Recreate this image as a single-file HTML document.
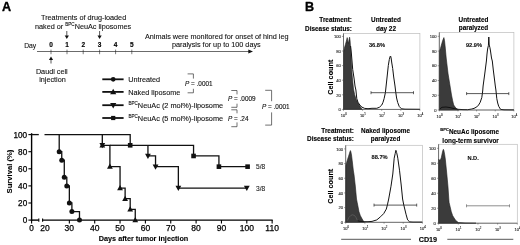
<!DOCTYPE html>
<html lang="en">
<head>
<meta charset="utf-8">
<title>Figure</title>
<style>
html,body{margin:0;padding:0;background:#fff;}
body{width:520px;height:245px;overflow:hidden;}
svg{display:block;filter:blur(0.35px);}
svg text{font-family:"Liberation Sans",sans-serif;stroke-linejoin:round;}
</style>
</head>
<body>
<svg width="520" height="245" viewBox="0 0 520 245">
<rect x="0" y="0" width="520" height="245" fill="#fff"/>
<text x="1.9" y="11.4" text-anchor="start" fill="#000" stroke="#000" stroke-width="0.35" style="font-size:12.6px;font-weight:bold;" >A</text>
<text x="41" y="19.6" text-anchor="start" fill="#111" stroke="#111" stroke-width="0.1" style="font-size:7.25px;" >Treatments of drug-loaded</text>
<text x="35" y="28.6" fill="#111" stroke="#111" stroke-width="0.1" style="font-size:7.25px">naked or <tspan dy="-2.6" style="font-size:4.6px">BPC</tspan><tspan dy="2.6">NeuAc liposomes</tspan></text>
<line x1="66.8" y1="31" x2="66.8" y2="35.9" stroke="#111" stroke-width="0.7" stroke-linecap="butt"/>
<polygon points="64.7,35.4 68.89999999999999,35.4 66.8,39" fill="#111"/>
<line x1="99.6" y1="31" x2="99.6" y2="35.9" stroke="#111" stroke-width="0.7" stroke-linecap="butt"/>
<polygon points="97.5,35.4 101.69999999999999,35.4 99.6,39" fill="#111"/>
<text x="24.2" y="47.6" text-anchor="start" fill="#111" stroke="#111" stroke-width="0.1" style="font-size:7.25px;" textLength="12" lengthAdjust="spacingAndGlyphs">Day</text>
<text x="51" y="47.4" text-anchor="middle" fill="#000" stroke="#000" stroke-width="0.15" style="font-size:6.5px;font-weight:bold;" >0</text>
<line x1="51" y1="49.6" x2="51" y2="54.2" stroke="#222" stroke-width="0.6" stroke-linecap="butt"/>
<text x="67" y="47.4" text-anchor="middle" fill="#000" stroke="#000" stroke-width="0.15" style="font-size:6.5px;font-weight:bold;" >1</text>
<line x1="67" y1="49.6" x2="67" y2="54.2" stroke="#222" stroke-width="0.6" stroke-linecap="butt"/>
<text x="83.2" y="47.4" text-anchor="middle" fill="#000" stroke="#000" stroke-width="0.15" style="font-size:6.5px;font-weight:bold;" >2</text>
<line x1="83.2" y1="49.6" x2="83.2" y2="54.2" stroke="#222" stroke-width="0.6" stroke-linecap="butt"/>
<text x="99.6" y="47.4" text-anchor="middle" fill="#000" stroke="#000" stroke-width="0.15" style="font-size:6.5px;font-weight:bold;" >3</text>
<line x1="99.6" y1="49.6" x2="99.6" y2="54.2" stroke="#222" stroke-width="0.6" stroke-linecap="butt"/>
<text x="115.6" y="47.4" text-anchor="middle" fill="#000" stroke="#000" stroke-width="0.15" style="font-size:6.5px;font-weight:bold;" >4</text>
<line x1="115.6" y1="49.6" x2="115.6" y2="54.2" stroke="#222" stroke-width="0.6" stroke-linecap="butt"/>
<text x="131.8" y="47.4" text-anchor="middle" fill="#000" stroke="#000" stroke-width="0.15" style="font-size:6.5px;font-weight:bold;" >5</text>
<line x1="131.8" y1="49.6" x2="131.8" y2="54.2" stroke="#222" stroke-width="0.6" stroke-linecap="butt"/>
<line x1="37" y1="51.5" x2="249.5" y2="51.5" stroke="#1a1a1a" stroke-width="0.65" stroke-linecap="butt"/>
<polygon points="248.3,49.4 253,51.5 248.3,53.6" fill="#111"/>
<line x1="51" y1="59.6" x2="51" y2="63.5" stroke="#111" stroke-width="0.7" stroke-linecap="butt"/>
<polygon points="48.9,60.1 53.1,60.1 51,56.5" fill="#111"/>
<text x="51.8" y="73.6" text-anchor="middle" fill="#111" stroke="#111" stroke-width="0.1" style="font-size:7.25px;" >Daudi cell</text>
<text x="52.5" y="82.3" text-anchor="middle" fill="#111" stroke="#111" stroke-width="0.1" style="font-size:7.25px;" >injection</text>
<text x="145" y="38.6" text-anchor="start" fill="#111" stroke="#111" stroke-width="0.1" style="font-size:7.25px;" >Animals were monitored for onset of hind leg</text>
<text x="172" y="47.3" text-anchor="start" fill="#111" stroke="#111" stroke-width="0.1" style="font-size:7.25px;" >paralysis for up to 100 days</text>
<line x1="102.3" y1="79.3" x2="123.6" y2="79.3" stroke="#111" stroke-width="1.8" stroke-linecap="butt"/>
<line x1="102.3" y1="91.9" x2="123.6" y2="91.9" stroke="#111" stroke-width="1.8" stroke-linecap="butt"/>
<line x1="102.3" y1="105.2" x2="123.6" y2="105.2" stroke="#111" stroke-width="1.8" stroke-linecap="butt"/>
<line x1="102.3" y1="118.0" x2="123.6" y2="118.0" stroke="#111" stroke-width="1.8" stroke-linecap="butt"/>
<circle cx="113.2" cy="79.3" r="2.35" fill="#111"/>
<polygon points="110.10000000000001,94.22500000000001 116.3,94.22500000000001 113.2,88.64500000000001" fill="#111"/>
<polygon points="110.10000000000001,102.875 116.3,102.875 113.2,108.455" fill="#111"/>
<rect x="111.10000000000001" y="115.9" width="4.2" height="4.2" fill="#111"/>
<text x="128.3" y="81.9" text-anchor="start" fill="#111" stroke="#111" stroke-width="0.1" style="font-size:7.25px;" >Untreated</text>
<text x="128.3" y="94.5" text-anchor="start" fill="#111" stroke="#111" stroke-width="0.1" style="font-size:7.25px;" >Naked liposome</text>
<text x="128.4" y="107.8" fill="#111" stroke="#111" stroke-width="0.1" style="font-size:7.35px"><tspan dy="-2.6" style="font-size:4.6px">BPC</tspan><tspan dy="2.6">NeuAc (2 mol%)-liposome</tspan></text>
<text x="128.4" y="120.7" fill="#111" stroke="#111" stroke-width="0.1" style="font-size:7.35px"><tspan dy="-2.6" style="font-size:4.6px">BPC</tspan><tspan dy="2.6">NeuAc (5 mol%)-liposome</tspan></text>
<text x="185" y="86.2" fill="#111" stroke="#111" stroke-width="0.12" style="font-size:6.4px"><tspan style="font-style:italic">P</tspan> = .0001</text>
<path d="M187.6,73.9 H193.4 V78.6" stroke="#333" stroke-width="0.7" fill="none" stroke-linejoin="miter"/>
<path d="M187.6,92.8 H193.4 V88.8" stroke="#333" stroke-width="0.7" fill="none" stroke-linejoin="miter"/>
<text x="228" y="101.4" fill="#111" stroke="#111" stroke-width="0.12" style="font-size:6.4px"><tspan style="font-style:italic">P</tspan> = .0009</text>
<path d="M231.3,90.5 H237 V94.4" stroke="#333" stroke-width="0.7" fill="none" stroke-linejoin="miter"/>
<path d="M231.3,107.3 H237 V103.7" stroke="#333" stroke-width="0.7" fill="none" stroke-linejoin="miter"/>
<path d="M231.3,109.8 H237 V113.3" stroke="#333" stroke-width="0.7" fill="none" stroke-linejoin="miter"/>
<text x="228" y="120.6" fill="#111" stroke="#111" stroke-width="0.12" style="font-size:6.4px"><tspan style="font-style:italic">P</tspan> = .24</text>
<path d="M231.3,126.7 H237 V122.4" stroke="#333" stroke-width="0.7" fill="none" stroke-linejoin="miter"/>
<path d="M265.2,90.3 H271.6 V101.2" stroke="#333" stroke-width="0.7" fill="none" stroke-linejoin="miter"/>
<text x="262" y="109" fill="#111" stroke="#111" stroke-width="0.12" style="font-size:6.4px"><tspan style="font-style:italic">P</tspan> = .0001</text>
<path d="M265.2,125.1 H271.6 V112.4" stroke="#333" stroke-width="0.7" fill="none" stroke-linejoin="miter"/>
<line x1="31.6" y1="133.2" x2="31.6" y2="220.79999999999998" stroke="#000" stroke-width="1.4" stroke-linecap="butt"/>
<line x1="28.400000000000002" y1="220.1" x2="31.6" y2="220.1" stroke="#000" stroke-width="1.1" stroke-linecap="butt"/>
<text x="27.200000000000003" y="223.1" text-anchor="end" fill="#000" stroke="#000" stroke-width="0.25" style="font-size:8.2px;" >0</text>
<line x1="28.400000000000002" y1="203.0" x2="31.6" y2="203.0" stroke="#000" stroke-width="1.1" stroke-linecap="butt"/>
<text x="27.200000000000003" y="206.0" text-anchor="end" fill="#000" stroke="#000" stroke-width="0.25" style="font-size:8.2px;" >20</text>
<line x1="28.400000000000002" y1="185.9" x2="31.6" y2="185.9" stroke="#000" stroke-width="1.1" stroke-linecap="butt"/>
<text x="27.200000000000003" y="188.9" text-anchor="end" fill="#000" stroke="#000" stroke-width="0.25" style="font-size:8.2px;" >40</text>
<line x1="28.400000000000002" y1="168.8" x2="31.6" y2="168.8" stroke="#000" stroke-width="1.1" stroke-linecap="butt"/>
<text x="27.200000000000003" y="171.8" text-anchor="end" fill="#000" stroke="#000" stroke-width="0.25" style="font-size:8.2px;" >60</text>
<line x1="28.400000000000002" y1="151.7" x2="31.6" y2="151.7" stroke="#000" stroke-width="1.1" stroke-linecap="butt"/>
<text x="27.200000000000003" y="154.7" text-anchor="end" fill="#000" stroke="#000" stroke-width="0.25" style="font-size:8.2px;" >80</text>
<line x1="28.400000000000002" y1="134.6" x2="31.6" y2="134.6" stroke="#000" stroke-width="1.1" stroke-linecap="butt"/>
<text x="27.200000000000003" y="137.6" text-anchor="end" fill="#000" stroke="#000" stroke-width="0.25" style="font-size:8.2px;" >100</text>
<line x1="30.900000000000002" y1="220.1" x2="38.8" y2="220.1" stroke="#000" stroke-width="1.4" stroke-linecap="butt"/>
<line x1="42.6" y1="220.1" x2="272.7" y2="220.1" stroke="#000" stroke-width="1.4" stroke-linecap="butt"/>
<line x1="38.8" y1="218.4" x2="38.8" y2="221.79999999999998" stroke="#000" stroke-width="1.1" stroke-linecap="butt"/>
<line x1="42.6" y1="218.4" x2="42.6" y2="221.79999999999998" stroke="#000" stroke-width="1.1" stroke-linecap="butt"/>
<line x1="31.6" y1="220.1" x2="31.6" y2="223.5" stroke="#000" stroke-width="1.1" stroke-linecap="butt"/>
<text x="31.6" y="231.0" text-anchor="middle" fill="#000" stroke="#000" stroke-width="0.25" style="font-size:8.2px;" >0</text>
<text x="45.0" y="231.0" text-anchor="middle" fill="#000" stroke="#000" stroke-width="0.25" style="font-size:8.5px;" >20</text>
<line x1="69.35" y1="220.1" x2="69.35" y2="223.5" stroke="#000" stroke-width="1.1" stroke-linecap="butt"/>
<text x="69.35" y="231.0" text-anchor="middle" fill="#000" stroke="#000" stroke-width="0.25" style="font-size:8.5px;" >30</text>
<line x1="94.7" y1="220.1" x2="94.7" y2="223.5" stroke="#000" stroke-width="1.1" stroke-linecap="butt"/>
<text x="94.7" y="231.0" text-anchor="middle" fill="#000" stroke="#000" stroke-width="0.25" style="font-size:8.5px;" >40</text>
<line x1="120.05" y1="220.1" x2="120.05" y2="223.5" stroke="#000" stroke-width="1.1" stroke-linecap="butt"/>
<text x="120.05" y="231.0" text-anchor="middle" fill="#000" stroke="#000" stroke-width="0.25" style="font-size:8.5px;" >50</text>
<line x1="145.4" y1="220.1" x2="145.4" y2="223.5" stroke="#000" stroke-width="1.1" stroke-linecap="butt"/>
<text x="145.4" y="231.0" text-anchor="middle" fill="#000" stroke="#000" stroke-width="0.25" style="font-size:8.5px;" >60</text>
<line x1="170.75" y1="220.1" x2="170.75" y2="223.5" stroke="#000" stroke-width="1.1" stroke-linecap="butt"/>
<text x="170.75" y="231.0" text-anchor="middle" fill="#000" stroke="#000" stroke-width="0.25" style="font-size:8.5px;" >70</text>
<line x1="196.1" y1="220.1" x2="196.1" y2="223.5" stroke="#000" stroke-width="1.1" stroke-linecap="butt"/>
<text x="196.1" y="231.0" text-anchor="middle" fill="#000" stroke="#000" stroke-width="0.25" style="font-size:8.5px;" >80</text>
<line x1="221.45" y1="220.1" x2="221.45" y2="223.5" stroke="#000" stroke-width="1.1" stroke-linecap="butt"/>
<text x="221.45" y="231.0" text-anchor="middle" fill="#000" stroke="#000" stroke-width="0.25" style="font-size:8.5px;" >90</text>
<line x1="246.8" y1="220.1" x2="246.8" y2="223.5" stroke="#000" stroke-width="1.1" stroke-linecap="butt"/>
<text x="246.8" y="231.0" text-anchor="middle" fill="#000" stroke="#000" stroke-width="0.25" style="font-size:8.5px;" >100</text>
<line x1="272.15" y1="220.1" x2="272.15" y2="223.5" stroke="#000" stroke-width="1.1" stroke-linecap="butt"/>
<text x="272.15" y="231.0" text-anchor="middle" fill="#000" stroke="#000" stroke-width="0.25" style="font-size:8.5px;" >110</text>
<text x="98.8" y="240.7" text-anchor="start" fill="#000" stroke="#000" stroke-width="0.1" style="font-size:7.25px;font-weight:bold;" >Days after tumor injection</text>
<text transform="translate(12.0,193.4) rotate(-90)" fill="#000" stroke="#000" stroke-width="0.08" style="font-size:7.65px;font-weight:bold">Survival (%)</text>
<line x1="31.6" y1="134.6" x2="38.8" y2="134.6" stroke="#111" stroke-width="1.3" stroke-linecap="butt"/>
<path d="M44.5,134.6 H130.19 V145.29 H193.56 V155.97 H218.92 V166.66 H247.60000000000002" stroke="#111" stroke-width="1.3" fill="none" stroke-linejoin="miter"/>
<path d="M59.21,134.6 H59.21 V151.7 H61.75 V160.25 H64.28 V177.35 H66.81 V185.9 H69.35 V203.0 H71.89 V211.55 H79.49 V220.1" stroke="#111" stroke-width="1.3" fill="none" stroke-linejoin="miter"/>
<path d="M102.31,134.6 V145.29 H109.91 V166.66 H120.05 V188.04 H125.12 V198.72 H130.19 V209.41 H135.26 V220.1" stroke="#111" stroke-width="1.3" fill="none" stroke-linejoin="miter"/>
<path d="M109.91,145.29 H130.19" stroke="#111" stroke-width="1.3" fill="none" stroke-linejoin="miter"/>
<path d="M147.94,145.29 H147.94 V155.97 H155.54 V166.66 H178.36 V188.04 H246.8" stroke="#111" stroke-width="1.3" fill="none" stroke-linejoin="miter"/>
<circle cx="59.21" cy="151.7" r="2.5" fill="#111"/>
<circle cx="61.75" cy="160.25" r="2.5" fill="#111"/>
<circle cx="64.28" cy="177.35" r="2.5" fill="#111"/>
<circle cx="66.81" cy="185.9" r="2.5" fill="#111"/>
<circle cx="69.35" cy="203.0" r="2.5" fill="#111"/>
<circle cx="71.89" cy="211.55" r="2.5" fill="#111"/>
<circle cx="79.49" cy="220.1" r="2.5" fill="#111"/>
<polygon points="99.41,147.465 105.21000000000001,147.465 102.31,142.245" fill="#111"/>
<polygon points="107.00999999999999,168.835 112.81,168.835 109.91,163.615" fill="#111"/>
<polygon points="117.14999999999999,190.215 122.95,190.215 120.05,184.995" fill="#111"/>
<polygon points="122.22,200.895 128.02,200.895 125.12,195.675" fill="#111"/>
<polygon points="127.28999999999999,211.585 133.09,211.585 130.19,206.365" fill="#111"/>
<polygon points="132.35999999999999,222.275 138.16,222.275 135.26,217.055" fill="#111"/>
<polygon points="99.41,143.11499999999998 105.21000000000001,143.11499999999998 102.31,148.33499999999998" fill="#111"/>
<polygon points="145.04,153.795 150.84,153.795 147.94,159.015" fill="#111"/>
<polygon points="152.64,164.48499999999999 158.44,164.48499999999999 155.54,169.70499999999998" fill="#111"/>
<polygon points="175.46,185.86499999999998 181.26000000000002,185.86499999999998 178.36,191.08499999999998" fill="#111"/>
<polygon points="243.9,185.86499999999998 249.70000000000002,185.86499999999998 246.8,191.08499999999998" fill="#111"/>
<rect x="127.89" y="142.98999999999998" width="4.6" height="4.6" fill="#111"/>
<rect x="191.26" y="153.67" width="4.6" height="4.6" fill="#111"/>
<rect x="216.61999999999998" y="164.35999999999999" width="4.6" height="4.6" fill="#111"/>
<rect x="245.3" y="164.35999999999999" width="4.6" height="4.6" fill="#111"/>
<text x="256" y="169.16" text-anchor="start" fill="#222" stroke="#222" stroke-width="0.1" style="font-size:6.6px;" >5/8</text>
<text x="256" y="190.54" text-anchor="start" fill="#222" stroke="#222" stroke-width="0.1" style="font-size:6.6px;" >3/8</text>
<text x="305.0" y="11.4" text-anchor="start" fill="#000" stroke="#000" stroke-width="0.35" style="font-size:12.6px;font-weight:bold;" >B</text>
<text x="352" y="22.3" text-anchor="end" fill="#000" stroke="#000" stroke-width="0.12" style="font-size:6.4px;font-weight:bold;" >Treatment:</text>
<text x="352" y="30.6" text-anchor="end" fill="#000" stroke="#000" stroke-width="0.12" style="font-size:6.4px;font-weight:bold;" >Disease status:</text>
<text x="386" y="22.3" text-anchor="middle" fill="#000" stroke="#000" stroke-width="0.12" style="font-size:6.4px;font-weight:bold;" >Untreated</text>
<text x="386" y="30.6" text-anchor="middle" fill="#000" stroke="#000" stroke-width="0.12" style="font-size:6.4px;font-weight:bold;" >day 22</text>
<text x="473.5" y="22.3" text-anchor="middle" fill="#000" stroke="#000" stroke-width="0.12" style="font-size:6.4px;font-weight:bold;" >Untreated</text>
<text x="473.5" y="29.8" text-anchor="middle" fill="#000" stroke="#000" stroke-width="0.12" style="font-size:6.4px;font-weight:bold;" >paralyzed</text>
<text x="354" y="132.8" text-anchor="end" fill="#000" stroke="#000" stroke-width="0.12" style="font-size:6.4px;font-weight:bold;" >Treatment:</text>
<text x="354" y="141.1" text-anchor="end" fill="#000" stroke="#000" stroke-width="0.12" style="font-size:6.4px;font-weight:bold;" >Disease status:</text>
<text x="385.6" y="132.8" text-anchor="middle" fill="#000" stroke="#000" stroke-width="0.12" style="font-size:6.4px;font-weight:bold;" >Naked liposome</text>
<text x="385.6" y="141.1" text-anchor="middle" fill="#000" stroke="#000" stroke-width="0.12" style="font-size:6.4px;font-weight:bold;" >paralyzed</text>
<text x="440.3" y="133.6" fill="#000" stroke="#000" stroke-width="0.12" style="font-size:6.4px;font-weight:bold"><tspan dy="-2.3" style="font-size:4.1px">BPC</tspan><tspan dy="2.3">NeuAc liposome</tspan></text>
<text x="470.6" y="142.7" text-anchor="middle" fill="#000" stroke="#000" stroke-width="0.12" style="font-size:6.4px;font-weight:bold;" >long-term survivor</text>
<rect x="343.5" y="33.5" width="76.39999999999998" height="75.9" fill="none" stroke="#bdbdbd" stroke-width="0.7"/>
<path d="M343.5,109.4 L343.6,52.0 L344.4,48.0 L345.4,44.5 L346.4,41.0 L347.2,37.6 L347.8,41.0 L348.4,43.5 L349.0,40.0 L349.6,37.2 L350.1,41.0 L350.5,47.0 L350.8,52.0 L351.1,58.0 L351.4,64.0 L351.7,70.0 L352.4,78.0 L353.5,89.0 L354.6,94.5 L356.2,99.5 L358.0,103.0 L360.0,106.3 L362.2,109.4 Z" fill="#3b3b3b" stroke="#1c1c1c" stroke-width="0.6" stroke-linejoin="round"/>
<path d="M350.6,46.0 L351.5,55.0 L352.7,69.4 L354.0,78.0 L355.0,86.0 L355.9,90.0 L356.8,98.7 L358.0,102.3 L360.0,105.3 L362.0,107.2 L364.7,108.4 L368.0,108.7 L372.0,108.3 L376.8,108.3 L379.5,107.2 L381.8,105.0 L383.0,102.3 L384.1,98.7 L385.4,92.6 L386.1,86.0 L387.3,75.0 L388.3,65.6 L389.3,59.5 L390.1,56.6 L390.6,56.0 L391.1,58.0 L391.8,63.0 L392.7,68.5 L393.7,77.0 L395.0,86.0 L395.8,92.6 L396.6,98.0 L397.7,102.5 L399.3,106.6 L401.5,108.8 L405.0,109.2 L419.9,109.3" fill="none" stroke="#111" stroke-width="1.0" stroke-linejoin="round"/>
<line x1="343.5" y1="33.5" x2="343.5" y2="109.7" stroke="#444" stroke-width="0.7" stroke-linecap="butt"/>
<line x1="343.5" y1="109.4" x2="419.9" y2="109.4" stroke="#444" stroke-width="0.7" stroke-linecap="butt"/>
<line x1="341.9" y1="109.4" x2="343.5" y2="109.4" stroke="#444" stroke-width="0.5" stroke-linecap="butt"/>
<text x="340.8" y="111.10000000000001" text-anchor="end" fill="#222" stroke="#222" stroke-width="0.1" style="font-size:4.1px;" >0</text>
<line x1="341.9" y1="94.80000000000001" x2="343.5" y2="94.80000000000001" stroke="#444" stroke-width="0.5" stroke-linecap="butt"/>
<text x="340.8" y="96.50000000000001" text-anchor="end" fill="#222" stroke="#222" stroke-width="0.1" style="font-size:4.1px;" >20</text>
<line x1="341.9" y1="80.2" x2="343.5" y2="80.2" stroke="#444" stroke-width="0.5" stroke-linecap="butt"/>
<text x="340.8" y="81.9" text-anchor="end" fill="#222" stroke="#222" stroke-width="0.1" style="font-size:4.1px;" >40</text>
<line x1="341.9" y1="65.60000000000001" x2="343.5" y2="65.60000000000001" stroke="#444" stroke-width="0.5" stroke-linecap="butt"/>
<text x="340.8" y="67.30000000000001" text-anchor="end" fill="#222" stroke="#222" stroke-width="0.1" style="font-size:4.1px;" >60</text>
<line x1="341.9" y1="51.00000000000001" x2="343.5" y2="51.00000000000001" stroke="#444" stroke-width="0.5" stroke-linecap="butt"/>
<text x="340.8" y="52.70000000000001" text-anchor="end" fill="#222" stroke="#222" stroke-width="0.1" style="font-size:4.1px;" >80</text>
<line x1="341.9" y1="36.400000000000006" x2="343.5" y2="36.400000000000006" stroke="#444" stroke-width="0.5" stroke-linecap="butt"/>
<text x="340.8" y="38.10000000000001" text-anchor="end" fill="#222" stroke="#222" stroke-width="0.1" style="font-size:4.1px;" >100</text>
<line x1="343.5" y1="109.4" x2="343.5" y2="110.80000000000001" stroke="#444" stroke-width="0.5" stroke-linecap="butt"/>
<text x="340.8" y="116.9" fill="#222" stroke="#222" stroke-width="0.1" style="font-size:4.0px">10<tspan dy="-1.6" style="font-size:2.8px">0</tspan></text>
<line x1="362.6" y1="109.4" x2="362.6" y2="110.80000000000001" stroke="#444" stroke-width="0.5" stroke-linecap="butt"/>
<text x="359.9" y="116.9" fill="#222" stroke="#222" stroke-width="0.1" style="font-size:4.0px">10<tspan dy="-1.6" style="font-size:2.8px">1</tspan></text>
<line x1="381.7" y1="109.4" x2="381.7" y2="110.80000000000001" stroke="#444" stroke-width="0.5" stroke-linecap="butt"/>
<text x="379.0" y="116.9" fill="#222" stroke="#222" stroke-width="0.1" style="font-size:4.0px">10<tspan dy="-1.6" style="font-size:2.8px">2</tspan></text>
<line x1="400.79999999999995" y1="109.4" x2="400.79999999999995" y2="110.80000000000001" stroke="#444" stroke-width="0.5" stroke-linecap="butt"/>
<text x="398.1" y="116.9" fill="#222" stroke="#222" stroke-width="0.1" style="font-size:4.0px">10<tspan dy="-1.6" style="font-size:2.8px">3</tspan></text>
<line x1="419.9" y1="109.4" x2="419.9" y2="110.80000000000001" stroke="#444" stroke-width="0.5" stroke-linecap="butt"/>
<text x="417.2" y="116.9" fill="#222" stroke="#222" stroke-width="0.1" style="font-size:4.0px">10<tspan dy="-1.6" style="font-size:2.8px">4</tspan></text>
<line x1="371" y1="92.7" x2="413.5" y2="92.7" stroke="#222" stroke-width="0.75" stroke-linecap="butt"/>
<line x1="371" y1="91.2" x2="371" y2="94.2" stroke="#222" stroke-width="0.7" stroke-linecap="butt"/>
<line x1="413.5" y1="91.2" x2="413.5" y2="94.2" stroke="#222" stroke-width="0.7" stroke-linecap="butt"/>
<text x="377.0" y="46.9" text-anchor="middle" fill="#111" stroke="#111" stroke-width="0.1" style="font-size:5.7px;font-weight:bold;" >36.8%</text>
<rect x="439.3" y="32.4" width="74.59999999999997" height="77.6" fill="none" stroke="#bdbdbd" stroke-width="0.7"/>
<path d="M439.3,110 L439.4,51.5 L440.5,48.3 L441.7,43.9 L442.8,40.2 L443.9,37.6 L444.5,40.5 L445.2,47.0 L446.2,58.0 L446.9,64.0 L448.1,74.0 L449.9,85.0 L450.7,90.0 L451.5,95.0 L452.6,100.5 L453.7,105.0 L455.8,108.0 L458.5,110.0 Z" fill="#3b3b3b" stroke="#1c1c1c" stroke-width="0.6" stroke-linejoin="round"/>
<path d="M439.7,109.0 L442.0,107.3 L446.0,107.0 L450.0,107.6 L454.0,108.6 L458.0,109.3 L463.0,109.6 L467.7,109.7 L471.8,109.0 L474.0,108.4 L476.8,106.9 L478.6,105.0 L480.2,102.3 L481.8,97.5 L482.7,91.0 L483.1,86.0 L484.6,75.0 L486.4,61.0 L487.0,54.0 L487.6,49.0 L488.4,45.5 L488.8,37.0 L489.2,45.0 L489.9,47.5 L490.5,51.0 L491.5,58.0 L492.3,61.0 L493.3,70.0 L494.7,81.0 L495.3,86.0 L495.9,90.0 L496.8,98.7 L497.7,103.0 L498.7,106.3 L500.6,109.4 L504.0,109.8 L513.9,109.9" fill="none" stroke="#111" stroke-width="1.0" stroke-linejoin="round"/>
<line x1="439.3" y1="32.4" x2="439.3" y2="110.3" stroke="#444" stroke-width="0.7" stroke-linecap="butt"/>
<line x1="439.3" y1="110" x2="513.9" y2="110" stroke="#444" stroke-width="0.7" stroke-linecap="butt"/>
<line x1="437.7" y1="110.0" x2="439.3" y2="110.0" stroke="#444" stroke-width="0.5" stroke-linecap="butt"/>
<text x="436.6" y="111.7" text-anchor="end" fill="#222" stroke="#222" stroke-width="0.1" style="font-size:4.1px;" >0</text>
<line x1="437.7" y1="95.26" x2="439.3" y2="95.26" stroke="#444" stroke-width="0.5" stroke-linecap="butt"/>
<text x="436.6" y="96.96000000000001" text-anchor="end" fill="#222" stroke="#222" stroke-width="0.1" style="font-size:4.1px;" >20</text>
<line x1="437.7" y1="80.52" x2="439.3" y2="80.52" stroke="#444" stroke-width="0.5" stroke-linecap="butt"/>
<text x="436.6" y="82.22" text-anchor="end" fill="#222" stroke="#222" stroke-width="0.1" style="font-size:4.1px;" >40</text>
<line x1="437.7" y1="65.78" x2="439.3" y2="65.78" stroke="#444" stroke-width="0.5" stroke-linecap="butt"/>
<text x="436.6" y="67.48" text-anchor="end" fill="#222" stroke="#222" stroke-width="0.1" style="font-size:4.1px;" >60</text>
<line x1="437.7" y1="51.04" x2="439.3" y2="51.04" stroke="#444" stroke-width="0.5" stroke-linecap="butt"/>
<text x="436.6" y="52.74" text-anchor="end" fill="#222" stroke="#222" stroke-width="0.1" style="font-size:4.1px;" >80</text>
<line x1="437.7" y1="36.3" x2="439.3" y2="36.3" stroke="#444" stroke-width="0.5" stroke-linecap="butt"/>
<text x="436.6" y="38.0" text-anchor="end" fill="#222" stroke="#222" stroke-width="0.1" style="font-size:4.1px;" >100</text>
<line x1="439.3" y1="110" x2="439.3" y2="111.4" stroke="#444" stroke-width="0.5" stroke-linecap="butt"/>
<text x="436.6" y="117.5" fill="#222" stroke="#222" stroke-width="0.1" style="font-size:4.0px">10<tspan dy="-1.6" style="font-size:2.8px">0</tspan></text>
<line x1="457.95" y1="110" x2="457.95" y2="111.4" stroke="#444" stroke-width="0.5" stroke-linecap="butt"/>
<text x="455.2" y="117.5" fill="#222" stroke="#222" stroke-width="0.1" style="font-size:4.0px">10<tspan dy="-1.6" style="font-size:2.8px">1</tspan></text>
<line x1="476.6" y1="110" x2="476.6" y2="111.4" stroke="#444" stroke-width="0.5" stroke-linecap="butt"/>
<text x="473.9" y="117.5" fill="#222" stroke="#222" stroke-width="0.1" style="font-size:4.0px">10<tspan dy="-1.6" style="font-size:2.8px">2</tspan></text>
<line x1="495.25" y1="110" x2="495.25" y2="111.4" stroke="#444" stroke-width="0.5" stroke-linecap="butt"/>
<text x="492.6" y="117.5" fill="#222" stroke="#222" stroke-width="0.1" style="font-size:4.0px">10<tspan dy="-1.6" style="font-size:2.8px">3</tspan></text>
<line x1="513.9" y1="110" x2="513.9" y2="111.4" stroke="#444" stroke-width="0.5" stroke-linecap="butt"/>
<text x="511.2" y="117.5" fill="#222" stroke="#222" stroke-width="0.1" style="font-size:4.0px">10<tspan dy="-1.6" style="font-size:2.8px">4</tspan></text>
<line x1="466.6" y1="93.6" x2="508.8" y2="93.6" stroke="#222" stroke-width="0.75" stroke-linecap="butt"/>
<line x1="466.6" y1="92.1" x2="466.6" y2="95.1" stroke="#222" stroke-width="0.7" stroke-linecap="butt"/>
<line x1="508.8" y1="92.1" x2="508.8" y2="95.1" stroke="#222" stroke-width="0.7" stroke-linecap="butt"/>
<text x="474" y="46.8" text-anchor="middle" fill="#111" stroke="#111" stroke-width="0.1" style="font-size:5.7px;font-weight:bold;" >92.9%</text>
<rect x="345.7" y="145.3" width="76.69999999999999" height="77.0" fill="none" stroke="#bdbdbd" stroke-width="0.7"/>
<path d="M345.7,222.3 L345.8,165.5 L346.6,162.5 L347.6,159.3 L348.6,156.2 L349.4,153.6 L350.0,151.6 L350.4,150.6 L350.9,151.9 L351.5,155.0 L352.2,160.5 L353.4,171.0 L354.0,174.5 L355.3,186.0 L356.5,199.0 L357.2,202.5 L359.0,211.7 L360.3,215.5 L361.6,218.0 L363.0,220.4 L364.7,222.2 Z" fill="#3b3b3b" stroke="#1c1c1c" stroke-width="0.6" stroke-linejoin="round"/>
<path d="M347.5,220.5 L349.0,217.3 L351.0,215.3 L352.7,214.8 L354.5,215.5 L356.0,217.5 L357.4,220.5" fill="none" stroke="#686868" stroke-width="0.6" stroke-linejoin="round"/>
<path d="M357.6,220.8 L360.0,221.4 L364.7,221.7 L368.0,221.7 L372.0,221.4 L376.8,219.9 L380.6,216.7 L383.7,213.6 L386.3,209.1 L387.4,204.9 L388.7,199.0 L391.0,186.2 L392.8,174.0 L394.2,158.2 L395.2,153.5 L395.9,150.3 L396.6,152.5 L397.2,155.0 L397.8,158.2 L399.5,170.2 L401.2,185.0 L402.1,194.0 L402.6,199.0 L403.8,205.1 L406.0,214.2 L407.6,219.9 L409.7,221.9 L413.0,222.1 L422.3,222.1" fill="none" stroke="#111" stroke-width="1.0" stroke-linejoin="round"/>
<line x1="345.7" y1="145.3" x2="345.7" y2="222.60000000000002" stroke="#444" stroke-width="0.7" stroke-linecap="butt"/>
<line x1="345.7" y1="222.3" x2="422.4" y2="222.3" stroke="#444" stroke-width="0.7" stroke-linecap="butt"/>
<line x1="344.09999999999997" y1="222.3" x2="345.7" y2="222.3" stroke="#444" stroke-width="0.5" stroke-linecap="butt"/>
<text x="343.0" y="224.0" text-anchor="end" fill="#222" stroke="#222" stroke-width="0.1" style="font-size:4.1px;" >0</text>
<line x1="344.09999999999997" y1="207.62" x2="345.7" y2="207.62" stroke="#444" stroke-width="0.5" stroke-linecap="butt"/>
<text x="343.0" y="209.32" text-anchor="end" fill="#222" stroke="#222" stroke-width="0.1" style="font-size:4.1px;" >20</text>
<line x1="344.09999999999997" y1="192.94" x2="345.7" y2="192.94" stroke="#444" stroke-width="0.5" stroke-linecap="butt"/>
<text x="343.0" y="194.64" text-anchor="end" fill="#222" stroke="#222" stroke-width="0.1" style="font-size:4.1px;" >40</text>
<line x1="344.09999999999997" y1="178.26000000000002" x2="345.7" y2="178.26000000000002" stroke="#444" stroke-width="0.5" stroke-linecap="butt"/>
<text x="343.0" y="179.96" text-anchor="end" fill="#222" stroke="#222" stroke-width="0.1" style="font-size:4.1px;" >60</text>
<line x1="344.09999999999997" y1="163.58" x2="345.7" y2="163.58" stroke="#444" stroke-width="0.5" stroke-linecap="butt"/>
<text x="343.0" y="165.28" text-anchor="end" fill="#222" stroke="#222" stroke-width="0.1" style="font-size:4.1px;" >80</text>
<line x1="344.09999999999997" y1="148.9" x2="345.7" y2="148.9" stroke="#444" stroke-width="0.5" stroke-linecap="butt"/>
<text x="343.0" y="150.6" text-anchor="end" fill="#222" stroke="#222" stroke-width="0.1" style="font-size:4.1px;" >100</text>
<line x1="345.7" y1="222.3" x2="345.7" y2="223.70000000000002" stroke="#444" stroke-width="0.5" stroke-linecap="butt"/>
<text x="343.0" y="229.8" fill="#222" stroke="#222" stroke-width="0.1" style="font-size:4.0px">10<tspan dy="-1.6" style="font-size:2.8px">0</tspan></text>
<line x1="364.875" y1="222.3" x2="364.875" y2="223.70000000000002" stroke="#444" stroke-width="0.5" stroke-linecap="butt"/>
<text x="362.2" y="229.8" fill="#222" stroke="#222" stroke-width="0.1" style="font-size:4.0px">10<tspan dy="-1.6" style="font-size:2.8px">1</tspan></text>
<line x1="384.04999999999995" y1="222.3" x2="384.04999999999995" y2="223.70000000000002" stroke="#444" stroke-width="0.5" stroke-linecap="butt"/>
<text x="381.3" y="229.8" fill="#222" stroke="#222" stroke-width="0.1" style="font-size:4.0px">10<tspan dy="-1.6" style="font-size:2.8px">2</tspan></text>
<line x1="403.22499999999997" y1="222.3" x2="403.22499999999997" y2="223.70000000000002" stroke="#444" stroke-width="0.5" stroke-linecap="butt"/>
<text x="400.5" y="229.8" fill="#222" stroke="#222" stroke-width="0.1" style="font-size:4.0px">10<tspan dy="-1.6" style="font-size:2.8px">3</tspan></text>
<line x1="422.4" y1="222.3" x2="422.4" y2="223.70000000000002" stroke="#444" stroke-width="0.5" stroke-linecap="butt"/>
<text x="419.7" y="229.8" fill="#222" stroke="#222" stroke-width="0.1" style="font-size:4.0px">10<tspan dy="-1.6" style="font-size:2.8px">4</tspan></text>
<line x1="374" y1="205.1" x2="416.7" y2="205.1" stroke="#222" stroke-width="0.75" stroke-linecap="butt"/>
<line x1="374" y1="203.6" x2="374" y2="206.6" stroke="#222" stroke-width="0.7" stroke-linecap="butt"/>
<line x1="416.7" y1="203.6" x2="416.7" y2="206.6" stroke="#222" stroke-width="0.7" stroke-linecap="butt"/>
<text x="379.6" y="158.5" text-anchor="middle" fill="#111" stroke="#111" stroke-width="0.1" style="font-size:5.7px;font-weight:bold;" >88.7%</text>
<rect x="438.6" y="144.3" width="78.69999999999993" height="78.89999999999998" fill="none" stroke="#bdbdbd" stroke-width="0.7"/>
<path d="M438.6,223.2 L438.7,159.2 L439.6,160.2 L440.6,159.5 L441.4,157.3 L442.2,153.3 L442.9,150.4 L443.4,149.3 L443.9,150.6 L444.6,154.2 L445.3,159.0 L446.5,171.0 L446.9,175.0 L448.0,187.0 L448.8,199.0 L449.1,202.5 L451.3,211.7 L452.6,215.5 L454.1,218.0 L456.0,220.8 L458.5,222.6 L465.0,223.0 L476.0,223.2 Z" fill="#3b3b3b" stroke="#1c1c1c" stroke-width="0.6" stroke-linejoin="round"/>
<line x1="438.6" y1="144.3" x2="438.6" y2="223.5" stroke="#444" stroke-width="0.7" stroke-linecap="butt"/>
<line x1="438.6" y1="223.2" x2="517.3" y2="223.2" stroke="#444" stroke-width="0.7" stroke-linecap="butt"/>
<line x1="437.0" y1="223.2" x2="438.6" y2="223.2" stroke="#444" stroke-width="0.5" stroke-linecap="butt"/>
<text x="435.90000000000003" y="224.89999999999998" text-anchor="end" fill="#222" stroke="#222" stroke-width="0.1" style="font-size:4.1px;" >0</text>
<line x1="437.0" y1="208.22" x2="438.6" y2="208.22" stroke="#444" stroke-width="0.5" stroke-linecap="butt"/>
<text x="435.90000000000003" y="209.92" text-anchor="end" fill="#222" stroke="#222" stroke-width="0.1" style="font-size:4.1px;" >20</text>
<line x1="437.0" y1="193.24" x2="438.6" y2="193.24" stroke="#444" stroke-width="0.5" stroke-linecap="butt"/>
<text x="435.90000000000003" y="194.94" text-anchor="end" fill="#222" stroke="#222" stroke-width="0.1" style="font-size:4.1px;" >40</text>
<line x1="437.0" y1="178.26" x2="438.6" y2="178.26" stroke="#444" stroke-width="0.5" stroke-linecap="butt"/>
<text x="435.90000000000003" y="179.95999999999998" text-anchor="end" fill="#222" stroke="#222" stroke-width="0.1" style="font-size:4.1px;" >60</text>
<line x1="437.0" y1="163.28" x2="438.6" y2="163.28" stroke="#444" stroke-width="0.5" stroke-linecap="butt"/>
<text x="435.90000000000003" y="164.98" text-anchor="end" fill="#222" stroke="#222" stroke-width="0.1" style="font-size:4.1px;" >80</text>
<line x1="437.0" y1="148.3" x2="438.6" y2="148.3" stroke="#444" stroke-width="0.5" stroke-linecap="butt"/>
<text x="435.90000000000003" y="150.0" text-anchor="end" fill="#222" stroke="#222" stroke-width="0.1" style="font-size:4.1px;" >100</text>
<line x1="438.6" y1="223.2" x2="438.6" y2="224.6" stroke="#444" stroke-width="0.5" stroke-linecap="butt"/>
<text x="435.9" y="230.7" fill="#222" stroke="#222" stroke-width="0.1" style="font-size:4.0px">10<tspan dy="-1.6" style="font-size:2.8px">0</tspan></text>
<line x1="458.275" y1="223.2" x2="458.275" y2="224.6" stroke="#444" stroke-width="0.5" stroke-linecap="butt"/>
<text x="455.6" y="230.7" fill="#222" stroke="#222" stroke-width="0.1" style="font-size:4.0px">10<tspan dy="-1.6" style="font-size:2.8px">1</tspan></text>
<line x1="477.95" y1="223.2" x2="477.95" y2="224.6" stroke="#444" stroke-width="0.5" stroke-linecap="butt"/>
<text x="475.2" y="230.7" fill="#222" stroke="#222" stroke-width="0.1" style="font-size:4.0px">10<tspan dy="-1.6" style="font-size:2.8px">2</tspan></text>
<line x1="497.625" y1="223.2" x2="497.625" y2="224.6" stroke="#444" stroke-width="0.5" stroke-linecap="butt"/>
<text x="494.9" y="230.7" fill="#222" stroke="#222" stroke-width="0.1" style="font-size:4.0px">10<tspan dy="-1.6" style="font-size:2.8px">3</tspan></text>
<line x1="517.3" y1="223.2" x2="517.3" y2="224.6" stroke="#444" stroke-width="0.5" stroke-linecap="butt"/>
<text x="514.6" y="230.7" fill="#222" stroke="#222" stroke-width="0.1" style="font-size:4.0px">10<tspan dy="-1.6" style="font-size:2.8px">4</tspan></text>
<line x1="466.5" y1="205.8" x2="509.5" y2="205.8" stroke="#6a6a6a" stroke-width="0.75" stroke-linecap="butt"/>
<line x1="466.5" y1="204.3" x2="466.5" y2="207.3" stroke="#6a6a6a" stroke-width="0.7" stroke-linecap="butt"/>
<line x1="509.5" y1="204.3" x2="509.5" y2="207.3" stroke="#6a6a6a" stroke-width="0.7" stroke-linecap="butt"/>
<text x="473.1" y="159.9" text-anchor="middle" fill="#111" stroke="#111" stroke-width="0.1" style="font-size:5.7px;font-weight:bold;" >N.D.</text>
<text transform="translate(333,94.7) rotate(-90)" fill="#000" stroke="#000" stroke-width="0.12" style="font-size:7.25px;font-weight:bold">Cell count</text>
<text transform="translate(332.6,203.8) rotate(-90)" fill="#000" stroke="#000" stroke-width="0.12" style="font-size:7.25px;font-weight:bold">Cell count</text>
<line x1="341.2" y1="239.3" x2="411" y2="239.3" stroke="#444" stroke-width="0.9" stroke-linecap="butt"/>
<line x1="447.3" y1="239.3" x2="513.3" y2="239.3" stroke="#444" stroke-width="0.9" stroke-linecap="butt"/>
<text x="418.7" y="241.9" text-anchor="start" fill="#000" stroke="#000" stroke-width="0.12" style="font-size:7.2px;font-weight:bold;" >CD19</text>
</svg>
</body>
</html>
